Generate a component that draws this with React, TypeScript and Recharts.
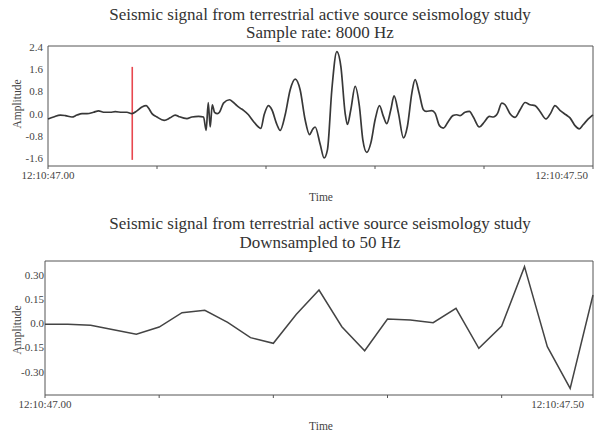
import React from "react";
import { LineChart, Line, XAxis, YAxis, ReferenceLine, ReferenceArea } from "recharts";

// ---- Top chart (8000 Hz) ----
const topTime = [
  0.0, 0.0051, 0.0113, 0.0159, 0.022, 0.0266, 0.0312, 0.0358, 0.0418, 0.0464,
  0.051, 0.0571, 0.0617, 0.0679, 0.0724, 0.077, 0.0816, 0.0862, 0.0901, 0.0922,
  0.0954, 0.0999, 0.1066, 0.1121, 0.1167, 0.1198, 0.1275, 0.132, 0.1381, 0.1427,
  0.1451, 0.147, 0.1488, 0.1507, 0.1528, 0.1555, 0.1573, 0.161, 0.1665, 0.1702,
  0.1733, 0.1763, 0.1794, 0.1839, 0.1885, 0.1931, 0.1953, 0.1983, 0.2023, 0.2054,
  0.21, 0.213, 0.2176, 0.2222, 0.2268, 0.2313, 0.2359, 0.2399, 0.243, 0.2451,
  0.2497, 0.2533, 0.2564, 0.2604, 0.265, 0.2687, 0.2726, 0.2747, 0.2778, 0.2818,
  0.2857, 0.2888, 0.2925, 0.2962, 0.3001, 0.3041, 0.3077, 0.3108, 0.3145, 0.3175,
  0.3215, 0.3261, 0.3297, 0.3338, 0.3368, 0.3405, 0.3444, 0.3469, 0.3521, 0.3551,
  0.3591, 0.3627, 0.3673, 0.3714, 0.375, 0.378, 0.3826, 0.3866, 0.3902, 0.3957,
  0.4001, 0.4049, 0.4086, 0.4123, 0.4163, 0.4193, 0.4239, 0.4285, 0.4331, 0.4377,
  0.4423, 0.4468, 0.4514, 0.4569, 0.4612, 0.4651, 0.4697, 0.4752, 0.4789, 0.4835,
  0.4874, 0.4911, 0.4957, 0.4999,
];
const topAmp = [
  -0.19, -0.12, -0.05, -0.07, -0.12, -0.05, 0.0, 0.0, 0.05, 0.1,
  0.05, 0.05, 0.07, 0.05, 0.05, 0.0, 0.1, 0.24, 0.29, 0.2,
  0.0, -0.12, -0.24, -0.15, -0.05, -0.1, -0.18, -0.12, -0.1, -0.12,
  -0.6, 0.4, -0.48, 0.32, 0.05, 0.0, 0.05, 0.38, 0.5, 0.4,
  0.29, 0.2, 0.12, -0.04, -0.28, -0.48, -0.53, -0.04, 0.29, 0.14,
  -0.39, -0.6, -0.04, 0.86, 1.24, 0.86, -0.22, -0.75, -0.55, -0.48,
  -1.1, -1.59, -1.29, 0.86, 2.23, 1.69, 0.02, -0.39, 0.14, 0.98,
  0.26, -0.93, -1.39, -1.05, -0.22, 0.29, -0.1, -0.36, 0.14, 0.64,
  0.02, -0.87, -0.46, 0.74, 1.22, 0.74, 0.14, 0.08, 0.11, 0.02,
  -0.43, -0.52, -0.28, -0.07, -0.04, -0.07, 0.05, 0.08, -0.12, -0.48,
  -0.31, -0.1, -0.12, 0.0, 0.38, 0.32, 0.0, -0.13, 0.14, 0.4,
  0.32, 0.29, 0.08, -0.19, 0.02, 0.29, 0.12, -0.04, -0.15, -0.43,
  -0.55, -0.39, -0.19, -0.04,
];
const topYTicks = [-1.6, -0.8, 0.0, 0.8, 1.6, 2.4];
const topXTicks = [0, 0.1, 0.2, 0.3, 0.4, 0.5];
const markerTime = 0.0773;
const markerRange = [-1.66, 1.68];

// ---- Bottom chart (50 Hz) ----
const bottomTime = [
  0.0, 0.02, 0.04, 0.06, 0.08, 0.1, 0.12, 0.14, 0.16, 0.18, 0.2, 0.22, 0.24,
  0.26, 0.28, 0.3, 0.32, 0.34, 0.36, 0.38, 0.4, 0.42, 0.44, 0.46, 0.48,
];
const bottomAmp = [
  -0.005, -0.005, -0.012, -0.04, -0.068, -0.023, 0.066, 0.081, 0.006, -0.089,
  -0.124, 0.055, 0.207, -0.021, -0.17, 0.027, 0.021, 0.004, 0.093, -0.155,
  -0.017, 0.352, -0.145, -0.404, 0.176,
];
const bottomYTicks = [-0.3, -0.15, 0.0, 0.15, 0.3];
const bottomXTicks = [0, 0.1, 0.2, 0.3, 0.4, 0.48];

const xTickLabels = ["12:10:47.00", "", "", "", "", "12:10:47.50"];

const titleMain = "Seismic signal from terrestrial active source seismology study";
const titleTop = "Sample rate: 8000 Hz";
const titleBottom = "Downsampled to 50 Hz";

const topData = topTime.map((t, i) => ({ t, a: topAmp[i] }));
const bottomData = bottomTime.map((t, i) => ({ t, a: bottomAmp[i] }));

const FONT = "'Liberation Serif', 'DejaVu Serif', serif";
const TEXT = "#444";
const BOX = "#555";

function makeTick(ticks: number[]) {
  return (props: any) => {
    const { x, y, index } = props;
    const label = xTickLabels[index] ?? "";
    if (!label) return <g />;
    const last = index === ticks.length - 1;
    return (
      <text
        x={last ? x + 3 : x}
        y={y}
        dy="0.71em"
        textAnchor={last ? "end" : "middle"}
        fontFamily={FONT}
        fontSize={11}
        fill={TEXT}
      >
        {label}
      </text>
    );
  };
}

export default function App() {
  const W = 595;
  return (
    <div style={{ position: "absolute", left: 0, top: 0, width: W, height: 431, background: "#fff" }}>
      <div style={{ position: "absolute", left: 0, top: 0 }}>
        <LineChart width={W} height={200} data={topData} margin={{ top: 46, right: 2, bottom: 4, left: 0 }}>
          <XAxis
            dataKey="t"
            type="number"
            domain={[0, 0.5]}
            ticks={topXTicks}
            axisLine={false}
            tickLine={{ stroke: BOX }}
            tickSize={3}
            tickMargin={2}
            height={30}
            tick={makeTick(topXTicks)}
          />
          <YAxis
            type="number"
            domain={[-1.88, 2.43]}
            ticks={topYTicks}
            width={48}
            axisLine={false}
            tickLine={false}
            tickSize={0}
            tickMargin={5}
            tick={{ fontFamily: FONT, fontSize: 11, fill: TEXT }}
            tickFormatter={(v: number) => v.toFixed(1)}
            allowDataOverflow
          />
          <ReferenceArea x1={0} x2={0.5} y1={-1.88} y2={2.43} fill="none" stroke={BOX} strokeWidth={1} />
          <ReferenceLine
            segment={[
              { x: markerTime, y: markerRange[0] },
              { x: markerTime, y: markerRange[1] },
            ]}
            stroke="#e8474f"
            strokeWidth={1.6}
          />
          <Line
            type="monotone"
            dataKey="a"
            stroke="#383838"
            strokeWidth={1.7}
            dot={false}
            isAnimationActive={false}
          />
        </LineChart>
      </div>
      <div style={{ position: "absolute", left: 0, top: 200 }}>
        <LineChart width={W} height={231} data={bottomData} margin={{ top: 61, right: 2, bottom: 6, left: 0 }}>
          <XAxis
            dataKey="t"
            type="number"
            domain={[0, 0.48]}
            ticks={bottomXTicks}
            axisLine={false}
            tickLine={{ stroke: BOX }}
            tickSize={3}
            tickMargin={2}
            height={30}
            tick={makeTick(bottomXTicks)}
          />
          <YAxis
            type="number"
            domain={[-0.445, 0.387]}
            ticks={bottomYTicks}
            width={45}
            axisLine={false}
            tickLine={false}
            tickSize={0}
            tickMargin={1}
            tick={{ fontFamily: FONT, fontSize: 11, fill: TEXT }}
            tickFormatter={(v: number) => (v === 0 ? "0.0" : v.toFixed(2))}
            allowDataOverflow
          />
          <ReferenceArea x1={0} x2={0.48} y1={-0.445} y2={0.387} fill="none" stroke={BOX} strokeWidth={1} />
          <Line
            type="linear"
            dataKey="a"
            stroke="#444"
            strokeWidth={1.5}
            dot={false}
            isAnimationActive={false}
          />
        </LineChart>
      </div>
      <svg
        width={W}
        height={431}
        style={{ position: "absolute", left: 0, top: 0, pointerEvents: "none" }}
        fontFamily={FONT}
      >
        <text x={320} y={20} textAnchor="middle" fontSize={17} fill="#333">{titleMain}</text>
        <text x={320} y={38} textAnchor="middle" fontSize={17} fill="#333">{titleTop}</text>
        <text x={320} y={229} textAnchor="middle" fontSize={17} fill="#333">{titleMain}</text>
        <text x={320} y={248} textAnchor="middle" fontSize={17} fill="#333">{titleBottom}</text>
        <text x={321} y={201} textAnchor="middle" fontSize={11.5} fill={TEXT}>Time</text>
        <text x={321} y={430} textAnchor="middle" fontSize={11.5} fill={TEXT}>Time</text>
        <text x={21} y={104} textAnchor="middle" fontSize={11.5} fill={TEXT} transform="rotate(-90 21 104)">Amplitude</text>
        <text x={21} y={330} textAnchor="middle" fontSize={11.5} fill={TEXT} transform="rotate(-90 21 330)">Amplitude</text>
      </svg>
    </div>
  );
}
